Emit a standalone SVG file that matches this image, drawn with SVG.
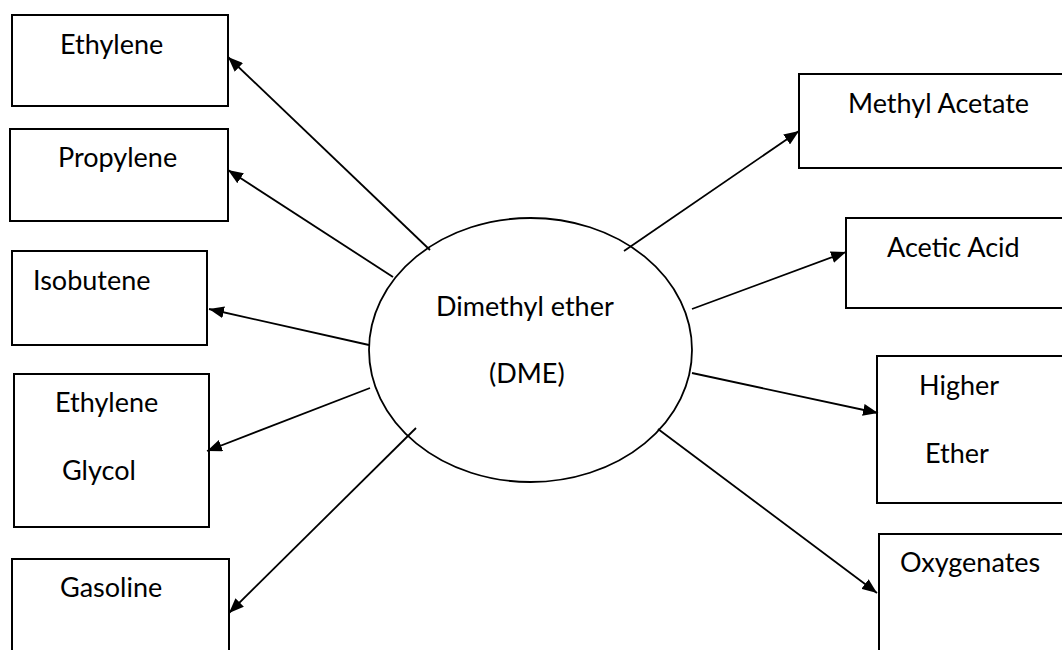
<svg xmlns="http://www.w3.org/2000/svg" width="1062" height="650" viewBox="0 0 1062 650">
<style>
.box{fill:#fff;stroke:#000;stroke-width:2}
.lbl{font-family:Lato,"Open Sans","Liberation Sans",sans-serif;font-size:27px;fill:#000}
.con{stroke:#000;stroke-width:1.8;fill:none;marker-end:url(#ah)}
</style>
<defs>
<marker id="ah" viewBox="0 0 15 12" refX="15" refY="6" markerWidth="15" markerHeight="12" markerUnits="userSpaceOnUse" orient="auto">
<path d="M0,0 L15,6 L0,12 Z" fill="#000"/>
</marker>
</defs>
<rect width="1062" height="650" fill="#fff"/>
<g id="node-dme">
<ellipse cx="530.5" cy="350" rx="161.5" ry="132" fill="none" stroke="#000" stroke-width="1.8"/>
<text class="lbl" x="436" y="316">Dimethyl ether</text>
<text class="lbl" x="489" y="383">(DME)</text>
</g>
<g id="node-ethylene"><rect class="box" x="12" y="15" width="216" height="91"/><text class="lbl" x="60" y="54">Ethylene</text></g>
<g id="node-propylene"><rect class="box" x="10" y="129" width="218" height="92"/><text class="lbl" x="58" y="167">Propylene</text></g>
<g id="node-isobutene"><rect class="box" x="12" y="251" width="195" height="94"/><text class="lbl" x="33" y="290">Isobutene</text></g>
<g id="node-glycol"><rect class="box" x="14" y="374" width="195" height="153"/><text class="lbl" x="55" y="412">Ethylene</text><text class="lbl" x="62" y="480">Glycol</text></g>
<g id="node-gasoline"><rect class="box" x="12" y="559" width="217" height="110"/><text class="lbl" x="60" y="597">Gasoline</text></g>
<g id="node-methylacetate"><rect class="box" x="799" y="74" width="280" height="94"/><text class="lbl" x="848" y="113">Methyl Acetate</text></g>
<g id="node-aceticacid"><rect class="box" x="846" y="218" width="230" height="90"/><text class="lbl" x="887" y="257">Acetic Acid</text></g>
<g id="node-higherether"><rect class="box" x="877" y="356" width="200" height="147"/><text class="lbl" x="919" y="395">Higher</text><text class="lbl" x="925" y="463">Ether</text></g>
<g id="node-oxygenates"><rect class="box" x="879" y="534" width="200" height="140"/><text class="lbl" x="900" y="572">Oxygenates</text></g>
<g id="connectors">
<line class="con" x1="430" y1="250" x2="228" y2="57"/>
<line class="con" x1="393" y1="277" x2="228" y2="170"/>
<line class="con" x1="369" y1="345" x2="209" y2="309"/>
<line class="con" x1="370" y1="388" x2="207" y2="451"/>
<line class="con" x1="416" y1="428" x2="229" y2="613"/>
<line class="con" x1="624" y1="251" x2="799" y2="131"/>
<line class="con" x1="692" y1="309" x2="846" y2="252"/>
<line class="con" x1="692" y1="373" x2="878" y2="413"/>
<line class="con" x1="658" y1="429" x2="877" y2="593"/>
</g>
</svg>
